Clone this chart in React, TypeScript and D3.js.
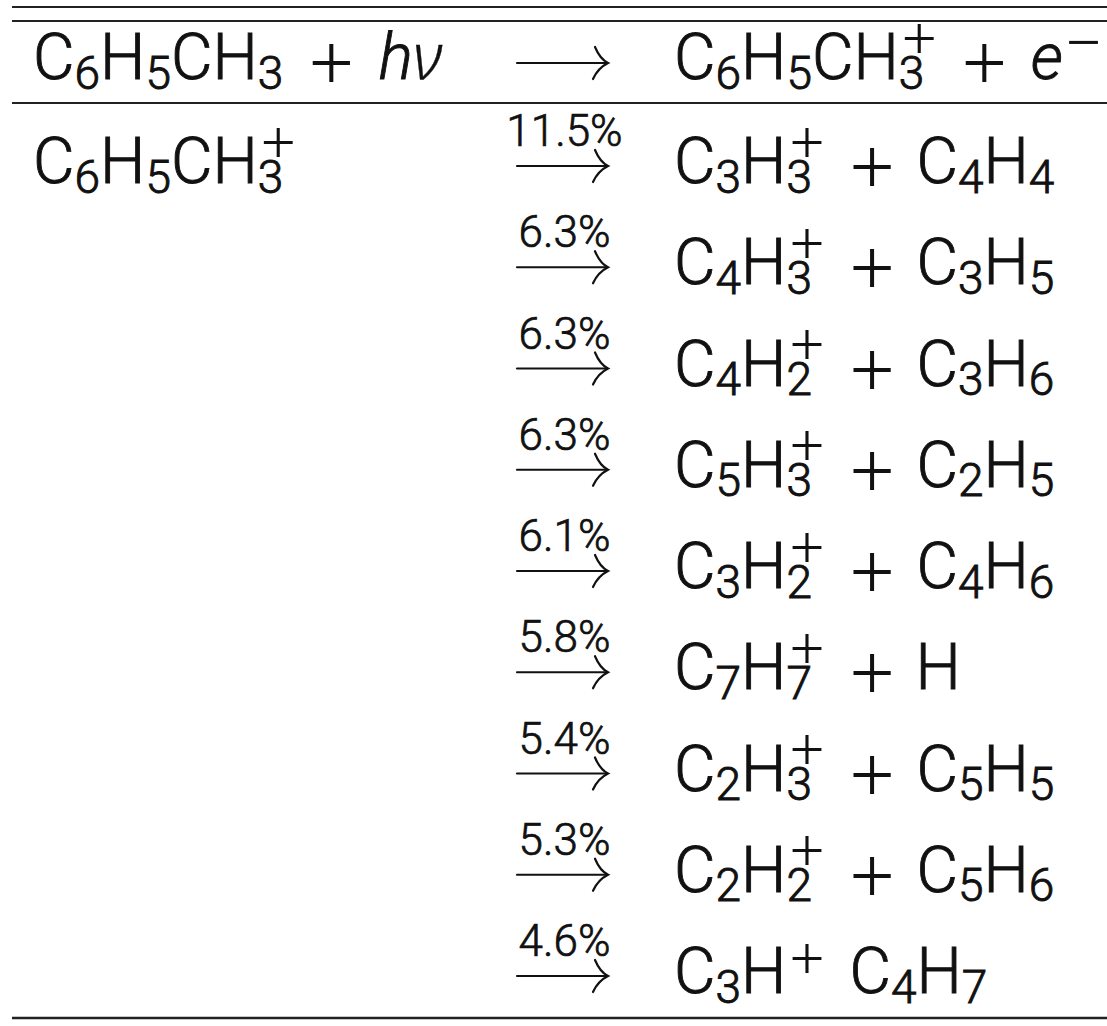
import React from "react";
import * as d3 from "d3";

// ---------- data ----------
const headerReactant = "C_6H_5CH_3 + ~h~ν";
const headerProduct = "C_6H_5CH_3^+ + ~e^−";
const parentIon = ["C_6H_5CH_3^+", "", "", "", "", "", "", "", ""];
const branchPercent = [11.5, 6.3, 6.3, 6.3, 6.1, 5.8, 5.4, 5.3, 4.6];
const products = [
  "C_3H_3^+ + C_4H_4",
  "C_4H_3^+ + C_3H_5",
  "C_4H_2^+ + C_3H_6",
  "C_5H_3^+ + C_2H_5",
  "C_3H_2^+ + C_4H_6",
  "C_7H_7^+ + H",
  "C_2H_3^+ + C_5H_5",
  "C_2H_2^+ + C_5H_6",
  "C_3H^+ C_4H_7",
];

// ---------- style ----------
const W = 1107;
const H = 1026;
const MAIN_FONT = "Roboto";
const MAIN_WEIGHT = 300;
const GREEK_FONT = "Noto Sans";
const SYM_FONT = "Liberation Serif";
const MAIN_SIZE = 64;
const SUB_SIZE = 46;
const SUP_SYM_SIZE = 62;
const BIN_SIZE = 80;
const LABEL_SIZE = 44;
const INK = "#111";
const EMBOLDEN = 0.9;

let ctx: CanvasRenderingContext2D | null = null;
function measure(text: string, size: number, family: string, italic = false, weight = 400) {
  if (!ctx) ctx = document.createElement("canvas").getContext("2d");
  const c = ctx as CanvasRenderingContext2D;
  c.font = `${italic ? "italic " : ""}${weight} ${size}px "${family}"`;
  const m = c.measureText(text);
  return {
    w: m.width,
    l: m.actualBoundingBoxLeft,
    r: m.actualBoundingBoxRight,
    a: m.actualBoundingBoxAscent,
    d: m.actualBoundingBoxDescent,
  };
}

type Atom =
  | { kind: "bin" }
  | { kind: "space" }
  | { kind: "char"; ch: string; italic: boolean; sub?: string; sup?: string };

function parse(s: string): Atom[] {
  const out: Atom[] = [];
  let i = 0;
  while (i < s.length) {
    if (s.startsWith(" + ", i)) {
      out.push({ kind: "bin" });
      i += 3;
      continue;
    }
    const ch = s[i];
    if (ch === " ") {
      out.push({ kind: "space" });
      i++;
      continue;
    }
    if (ch === "_" || ch === "^") {
      const last = out[out.length - 1] as any;
      if (ch === "_") last.sub = s[i + 1];
      else last.sup = s[i + 1];
      i += 2;
      continue;
    }
    if (ch === "~") {
      out.push({ kind: "char", ch: s[i + 1], italic: true });
      i += 2;
      continue;
    }
    out.push({ kind: "char", ch, italic: false });
    i++;
  }
  return out;
}

type Glyph = {
  t: string;
  x: number;
  y: number;
  size: number;
  family: string;
  italic: boolean;
  weight: number;
  bold: number;
};

function layout(s: string, inkLeft: number, base: number): Glyph[] {
  const atoms = parse(s);
  const g: Glyph[] = [];
  let cursor = inkLeft;
  let inkRight = inkLeft;
  let gap: number | null = 0;
  for (const a of atoms) {
    if (a.kind === "space") {
      gap = 32;
      continue;
    }
    if (a.kind === "bin") {
      const m = measure("+", BIN_SIZE, SYM_FONT);
      const x = inkRight + 31 + m.l;
      const y = base - 16 - (m.d - m.a) / 2;
      g.push({ t: "+", x, y, size: BIN_SIZE, family: SYM_FONT, italic: false, weight: 400, bold: 0 });
      cursor = x + m.w;
      inkRight = x + m.r;
      gap = 29;
      continue;
    }
    const greek = /[\u0370-\u03ff]/.test(a.ch);
    const fam = greek ? GREEK_FONT : MAIN_FONT;
    const wt = greek ? 300 : MAIN_WEIGHT;
    const m = measure(a.ch, MAIN_SIZE, fam, a.italic, wt);
    const x = gap !== null ? inkRight + gap + m.l : cursor;
    gap = null;
    g.push({
      t: a.ch,
      x,
      y: base,
      size: MAIN_SIZE,
      family: fam,
      italic: a.italic,
      weight: wt,
      bold: greek ? 0.3 : EMBOLDEN,
    });
    cursor = x + m.w;
    inkRight = x + m.r;
    const attX = cursor;
    let endC = cursor;
    let endI = inkRight;
    if (a.sub) {
      const ms = measure(a.sub, SUB_SIZE, MAIN_FONT, false, MAIN_WEIGHT);
      g.push({
        t: a.sub,
        x: attX,
        y: base + 9.5,
        size: SUB_SIZE,
        family: MAIN_FONT,
        italic: false,
        weight: MAIN_WEIGHT,
        bold: EMBOLDEN,
      });
      endC = Math.max(endC, attX + ms.w);
      endI = Math.max(endI, attX + ms.r);
    }
    if (a.sup) {
      const mp = measure(a.sup, SUP_SYM_SIZE, SYM_FONT);
      const center = a.sub ? 41 : a.italic ? 37 : 35;
      const px = attX + 6 + mp.l;
      const py = base - center - (mp.d - mp.a) / 2;
      g.push({
        t: a.sup,
        x: px,
        y: py,
        size: SUP_SYM_SIZE,
        family: SYM_FONT,
        italic: false,
        weight: 400,
        bold: 0,
      });
      endC = Math.max(endC, px + mp.w);
      endI = Math.max(endI, px + mp.r);
    }
    cursor = endC;
    inkRight = endI;
  }
  return g;
}

function Formula({ s, inkLeft, base }: { s: string; inkLeft: number; base: number }) {
  const glyphs = layout(s, inkLeft, base);
  return (
    <g>
      {glyphs.map((d, i) => (
        <text
          key={i}
          x={d.x}
          y={d.y}
          fontFamily={d.family}
          fontSize={d.size}
          fontWeight={d.weight}
          fontStyle={d.italic ? "italic" : "normal"}
          fill={INK}
          stroke={d.bold > 0 ? INK : "none"}
          strokeWidth={d.bold}
        >
          {d.t}
        </text>
      ))}
    </g>
  );
}

function Arrow({ x0, x1, y }: { x0: number; x1: number; y: number }) {
  const p = d3.path();
  p.moveTo(x0, y);
  p.lineTo(x1 - 1, y);
  const head = d3.path();
  head.moveTo(x1 - 13, y - 16);
  head.quadraticCurveTo(x1 - 8, y - 4, x1, y);
  head.quadraticCurveTo(x1 - 10, y + 5, x1 - 15, y + 16);
  return (
    <g fill="none" stroke={INK} strokeLinecap="round">
      <path d={p.toString()} strokeWidth={2.2} />
      <path d={head.toString()} strokeWidth={2.2} />
    </g>
  );
}

export default function App() {
  const rowY = d3
    .scalePoint<number>()
    .domain(d3.range(products.length))
    .range([183, 993]);
  const headerBase = 79;
  const leftInk = 37;
  const rightInk = 678;
  const arrowX0 = 517;
  const arrowX1 = 608;
  const ruleYs = [7, 21, 103, 1018];
  const fmt = (v: number) => `${v.toFixed(1)}%`;

  return (
    <svg
      width={W}
      height={H}
      style={{ position: "absolute", left: 0, top: 0, background: "#fff" }}
    >
      <rect width={W} height={H} fill="#fff" />
      {ruleYs.map((y, i) => (
        <line
          key={i}
          x1={12}
          x2={W}
          y1={y}
          y2={y}
          stroke="#222"
          strokeWidth={i === 3 ? 2.5 : 2}
        />
      ))}
      <Formula s={headerReactant} inkLeft={leftInk} base={headerBase} />
      <Arrow x0={arrowX0} x1={arrowX1} y={headerBase - 16} />
      <Formula s={headerProduct} inkLeft={rightInk} base={headerBase} />
      {products.map((p, i) => {
        const base = rowY(i) as number;
        return (
          <g key={i}>
            {parentIon[i] ? (
              <Formula s={parentIon[i]} inkLeft={leftInk} base={base} />
            ) : null}
            <text
              x={(arrowX0 + arrowX1) / 2 + 2}
              y={base - 37}
              textAnchor="middle"
              fontFamily={MAIN_FONT}
              fontWeight={MAIN_WEIGHT}
              fontSize={LABEL_SIZE}
              fill={INK}
              stroke={INK}
              strokeWidth={0.7}
            >
              {fmt(branchPercent[i])}
            </text>
            <Arrow x0={arrowX0} x1={arrowX1} y={base - 17} />
            <Formula s={p} inkLeft={rightInk} base={base} />
          </g>
        );
      })}
    </svg>
  );
}
